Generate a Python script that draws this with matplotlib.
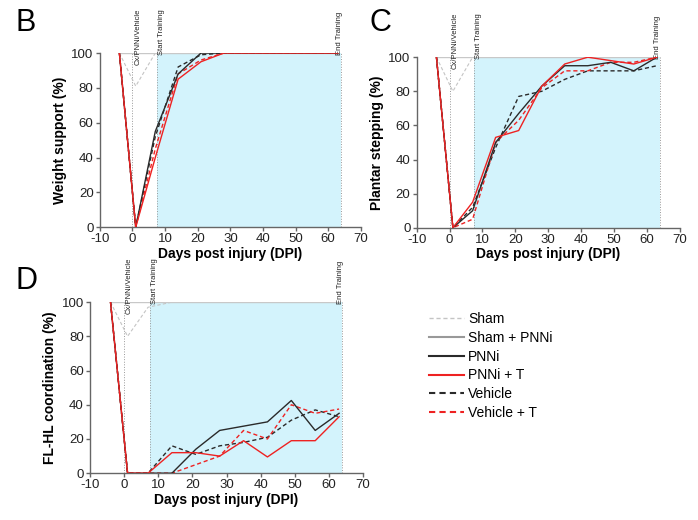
import matplotlib.pyplot as plt

plt.rcParams['font.family'] = ['Liberation Sans', 'DejaVu Sans']
plt.rcParams['axes.unicode_minus'] = False

days = [-4, 1, 7, 14, 21, 28, 35, 42, 49, 56, 63]

# B - weight support (%)
ws_sham = [100, 81, 100, 100, 100, 100, 100, 100, 100, 100, 100]
ws_sham_pnni = [100, 100, 100, 100, 100, 100, 100, 100, 100, 100, 100]
ws_pnni = [100, 0, 55, 88, 100, 100, 100, 100, 100, 100, 100]
ws_pnni_t = [100, 0, 40, 85, 95, 100, 100, 100, 100, 100, 100]
ws_vehicle = [100, 0, 52, 92, 99, 100, 100, 100, 100, 100, 100]
ws_vehicle_t = [100, 0, 45, 88, 96, 100, 100, 100, 100, 100, 100]

# C - plantar stepping (%)
ps_sham = [100, 80, 100, 100, 100, 100, 100, 100, 100, 100, 100]
ps_sham_pnni = [100, 100, 100, 100, 100, 100, 100, 100, 100, 100, 100]
ps_pnni = [100, 0, 10, 50, 67, 83, 95, 95, 97, 92, 100]
ps_pnni_t = [100, 0, 15, 53, 57, 83, 96, 100, 98, 96, 100]
ps_vehicle = [100, 0, 12, 47, 77, 80, 87, 92, 92, 92, 95]
ps_vehicle_t = [100, 0, 5, 50, 63, 82, 92, 92, 97, 97, 100]

# D - FL-HL coordination (%)
co_sham = [100, 80, 97, 100, 100, 100, 100, 100, 100, 100, 100]
co_sham_pnni = [100, 100, 100, 100, 100, 100, 100, 100, 100, 100, 100]
co_pnni = [100, 0, 0, 0, 14, 25, 27.5, 30, 42.5, 25, 35]
co_pnni_t = [100, 0, 0, 12, 12, 10, 19, 9.5, 19, 19, 33]
co_vehicle = [100, 0, 0, 16, 11, 16, 18, 21, 31, 37, 33]
co_vehicle_t = [100, 0, 0, 0, 5, 10, 25, 20, 40, 35, 37.5]

labels = ['Sham', 'Sham + PNNi', 'PNNi', 'PNNi + T', 'Vehicle', 'Vehicle + T']

RED = '#ee2222'
BLACK = '#2a2a2a'
SHADE = '#d3f3fc'


def draw_panel(ax, series, ylabel):
    sham, sham_pnni, pnni, pnni_t, veh, veh_t = series
    ax.axvspan(7.5, 64, ymin=0, ymax=1, color=SHADE, lw=0, zorder=0)
    for xv in (0, 7.5, 64):
        ax.plot([xv, xv], [0, 100], color='#999999', lw=0.7, ls=':', zorder=1)
    ax.plot(days, sham, color='#c4c4c4', lw=0.8, ls='--', dashes=(3, 2), zorder=2)
    ax.plot(days, sham_pnni, color='#c8c8c8', lw=1.0, zorder=2)
    ax.plot(days, veh, color=BLACK, lw=1.0, ls='--', dashes=(3, 2), zorder=3)
    ax.plot(days, veh_t, color=RED, lw=1.0, ls='--', dashes=(3, 2), zorder=3)
    ax.plot(days, pnni, color=BLACK, lw=1.0, zorder=4)
    ax.plot(days, pnni_t, color=RED, lw=1.0, zorder=5)

    ax.set_xlim(-10, 70)
    ax.set_ylim(0, 100)
    ax.set_xticks(range(-10, 71, 10))
    ax.set_yticks(range(0, 101, 20))
    ax.spines['top'].set_visible(False)
    ax.spines['right'].set_visible(False)
    for s in ('left', 'bottom'):
        ax.spines[s].set_color('#666666')
        ax.spines[s].set_linewidth(1.0)
    ax.tick_params(colors='#666666', labelcolor='#222222', labelsize=9.5,
                   length=3, width=1.0, pad=1.5)
    ax.set_xlabel('Days post injury (DPI)', fontsize=10, fontweight='bold', labelpad=1)
    ax.set_ylabel(ylabel, fontsize=10, fontweight='bold', labelpad=3)

    kw = dict(rotation=90, fontsize=5.5, color='#222222', va='bottom', ha='center',
              clip_on=False)
    ax.text(1.6, 93, 'Cx/PNNi/Vehicle', **kw)
    ax.text(8.8, 99, 'Start Training', **kw)
    ax.text(63.3, 99, 'End Training', **kw)


fig = plt.figure(figsize=(6.98, 5.2), dpi=100)
axB = fig.add_axes([0.143, 0.563, 0.374, 0.335])
axC = fig.add_axes([0.597, 0.562, 0.377, 0.328])
axD = fig.add_axes([0.129, 0.090, 0.391, 0.329])

draw_panel(axB, [ws_sham, ws_sham_pnni, ws_pnni, ws_pnni_t, ws_vehicle, ws_vehicle_t],
           'Weight support (%)')
draw_panel(axC, [ps_sham, ps_sham_pnni, ps_pnni, ps_pnni_t, ps_vehicle, ps_vehicle_t],
           'Plantar stepping (%)')
draw_panel(axD, [co_sham, co_sham_pnni, co_pnni, co_pnni_t, co_vehicle, co_vehicle_t],
           'FL-HL coordination (%)')

fig.text(0.022, 0.985, 'B', fontsize=22, va='top', ha='left')
fig.text(0.530, 0.985, 'C', fontsize=22, va='top', ha='left')
fig.text(0.022, 0.488, 'D', fontsize=22, va='top', ha='left')

# legend handles
styles = [
    dict(color='#c4c4c4', lw=1.0, ls='--', dashes=(3, 2)),
    dict(color='#999999', lw=1.5),
    dict(color=BLACK, lw=1.5),
    dict(color=RED, lw=1.5),
    dict(color=BLACK, lw=1.5, ls='--', dashes=(3, 2)),
    dict(color=RED, lw=1.5, ls='--', dashes=(3, 2)),
]
handles = [plt.Line2D([], [], **st) for st in styles]
fig.legend(handles, labels, loc='upper left', bbox_to_anchor=(0.607, 0.411),
           frameon=False, fontsize=10, handlelength=2.5, handletextpad=0.3,
           labelspacing=0.35, borderaxespad=0)

fig.savefig('out.png', dpi=100)
